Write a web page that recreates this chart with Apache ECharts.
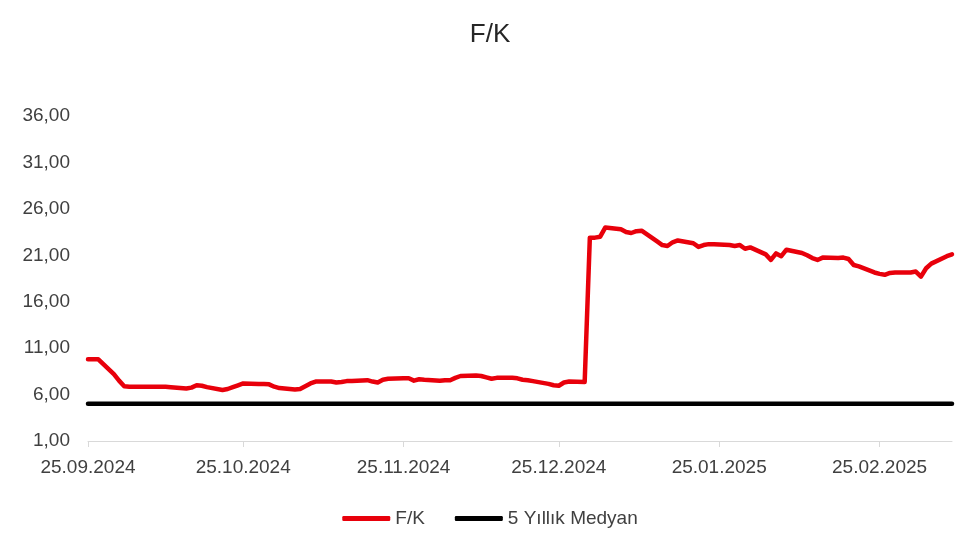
<!DOCTYPE html>
<html>
<head>
<meta charset="utf-8">
<script src="https://cdn.jsdelivr.net/npm/echarts@6/dist/echarts.min.js"></script>
<style>
  html, body { margin:0; padding:0; background:#fff; }
  #chart { width:980px; height:552px; }
</style>
</head>
<body>
<div id="chart"></div>
<script>
// takvim: 25.09.2024 - 11.03.2025 (Excel tarih ekseni, günlük)
const START_DATE = '2024-09-25'
const DAY_COUNT  = 168

// F/K değerleri, iş günleri sırasıyla (her satır bir hafta: Ça Pe Cu Pt Sa)
const FK = [
  9.8,  9.8,  9.8,  8.2,  7.5,
  6.9,  6.85, 6.85, 6.85, 6.85,
  6.85, 6.85, 6.8,  6.65, 6.75,
  7.0,  6.95, 6.8,  6.5,  6.6,
  6.8,  7.0,  7.2,  7.15, 7.15,
  7.1,  6.85, 6.7,  6.55, 6.6,
  6.9,  7.2,  7.4,  7.4,  7.3,
  7.35, 7.45, 7.45, 7.55, 7.4,
  7.3,  7.6,  7.7,  7.75, 7.75,
  7.5,  7.65, 7.6,  7.5,  7.55,
  7.55, 7.8,  8.0,  8.05, 8.0,
  7.85, 7.7,  7.8,  7.8,  7.75,
  7.6,  7.55, 7.45, 7.15, 7.0,
  6.95, 7.3,  7.4,  7.35, 22.9,
  22.9, 23.0, 24.0, 23.8, 23.5,
  23.4, 23.6, 23.65,22.5, 22.1,
  22.0, 22.4, 22.6, 22.3, 21.9,
  22.1, 22.2, 22.2, 22.1, 22.0,
  22.1, 21.7, 21.85,21.1, 20.5,
  21.2, 20.9, 21.6, 21.25,21.0,
  20.7, 20.5, 20.75,20.7, 20.75,
  20.6, 19.95,19.8, 19.15,19.0,
  18.9, 19.1, 19.15,19.15,19.25,
  18.7, 19.6, 20.1, 20.9, 21.1
]

const MEDIAN = 5.0   // 5 yıllık medyan

const Y_MIN = 1, Y_MAX = 36, Y_STEP = 5

function fmtDate(d) {
  const p = n => String(n).padStart(2, '0')
  return p(d.getUTCDate()) + '.' + p(d.getUTCMonth() + 1) + '.' + d.getUTCFullYear()
}

/* kategori ekseni: tüm takvim günleri */
const dates = []
const fkData = []
{
  const d0 = new Date(START_DATE + 'T00:00:00Z')
  let k = 0
  for (let i = 0; i < DAY_COUNT; i++) {
    const d = new Date(d0.getTime() + i * 86400000)
    const s = fmtDate(d)
    dates.push(s)
    const wd = d.getUTCDay()
    if (wd !== 0 && wd !== 6 && k < FK.length) fkData.push([s, FK[k++]])
  }
}
const medData = [[dates[0], MEDIAN], [dates[dates.length - 1], MEDIAN]]

const isMonthTick = (idx, val) => val.slice(0, 2) === '25'
const FONT = '"Liberation Sans", Arial, sans-serif'
const TXT = '#404040'

const chart = echarts.init(document.getElementById('chart'))
chart.setOption({
  animation: false,
  backgroundColor: '#fff',
  title: {
    text: 'F/K',
    left: 'center',
    top: 17,
    textStyle: { fontFamily: FONT, fontSize: 26, fontWeight: 'normal', color: '#262626' }
  },
  grid: { left: 88, right: 28, top: 116, bottom: 111 },
  legend: {
    top: 504,
    left: 'center',
    itemWidth: 48,
    itemHeight: 5,
    itemGap: 30,
    icon: 'roundRect',
    textStyle: { fontFamily: FONT, fontSize: 19, color: TXT },
    data: ['F/K', '5 Yıllık Medyan']
  },
  xAxis: {
    type: 'category',
    data: dates,
    boundaryGap: false,
    axisLine: { lineStyle: { color: '#d9d9d9', width: 1 } },
    axisTick: { interval: isMonthTick, length: 6, lineStyle: { color: '#d9d9d9' } },
    axisLabel: {
      interval: isMonthTick,
      margin: 17,
      fontFamily: FONT, fontSize: 19, color: TXT
    },
    splitLine: { show: false }
  },
  yAxis: {
    type: 'value',
    min: Y_MIN, max: Y_MAX, interval: Y_STEP,
    axisLine: { show: false },
    axisTick: { show: false },
    splitLine: { show: false },
    axisLabel: {
      margin: 18,
      fontFamily: FONT, fontSize: 19, color: TXT,
      formatter: v => v.toFixed(2).replace('.', ',')
    }
  },
  series: [
    {
      name: 'F/K',
      type: 'line',
      data: fkData,
      symbol: 'none',
      itemStyle: { color: '#e8000b' },
      lineStyle: { color: '#e8000b', width: 4.5, join: 'round', cap: 'round' },
      z: 3
    },
    {
      name: '5 Yıllık Medyan',
      type: 'line',
      data: medData,
      symbol: 'none',
      itemStyle: { color: '#000' },
      lineStyle: { color: '#000', width: 4.5, cap: 'round' },
      z: 2
    }
  ]
})
</script>
</body>
</html>
